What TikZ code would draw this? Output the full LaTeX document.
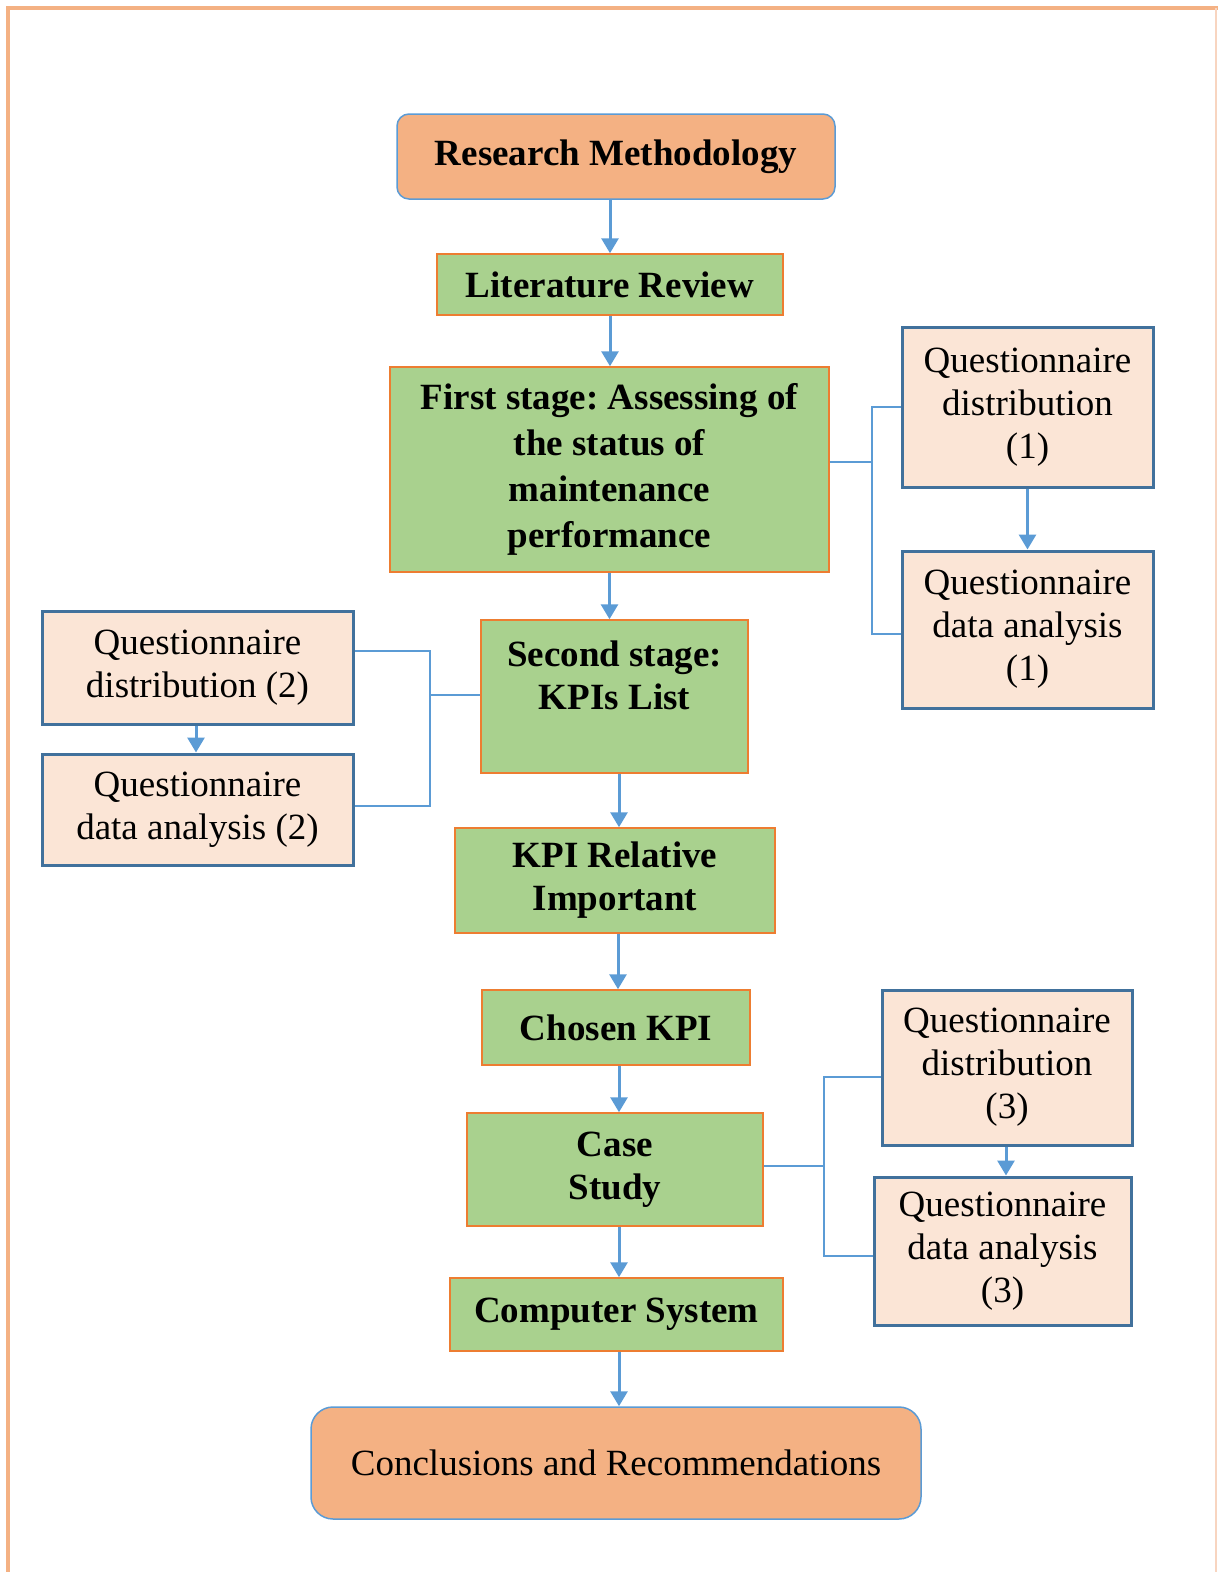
\documentclass[tikz,border=0pt]{standalone}
\usepackage{fontspec}
\setmainfont{Liberation Serif}
\usetikzlibrary{arrows.meta,calc}
\frenchspacing
\definecolor{cgreen}{HTML}{A9D18E}
\definecolor{cgreenline}{HTML}{ED7D31}
\definecolor{corange}{HTML}{F4B183}
\definecolor{cblue}{HTML}{5B9BD5}
\definecolor{cpeach}{HTML}{FBE5D6}
\definecolor{cdarkblue}{HTML}{41719C}
\definecolor{cframe}{HTML}{F4B183}
\definecolor{cframelight}{HTML}{F8D5C0}
\tikzset{
  box/.style={inner sep=0pt, align=center, font=\fontsize{37}{43}\selectfont},
  greenbox/.style={box, fill=cgreen, draw=cgreenline, line width=1.5pt, font=\fontsize{37}{43}\selectfont\bfseries},
  peachbox/.style={box, fill=cpeach, draw=cdarkblue, line width=3pt},
  roundbox/.style={box, fill=corange, draw=cblue, line width=1.5pt, rounded corners=12pt},
  arr/.style={draw=cblue, line width=3pt, -{Triangle[width=17pt,length=15pt]}, fill=cblue},
  brk/.style={draw=cblue, line width=1.8pt},
}
\begin{document}
\begin{tikzpicture}[x=1pt,y=1pt]
\useasboundingbox (0,0) rectangle (1218,-1572);
% outer frame
\draw[cframe, line width=4pt] (8,-1572) -- (8,-8) -- (1218,-8);
\draw[cframelight, line width=1.5pt] (1216,-8) -- (1216,-1572);

% main column
\node[roundbox, minimum width=438pt, minimum height=85pt, font=\fontsize{37}{43}\selectfont\bfseries] (rm) at (616,-156.5) {\raisebox{4pt}{Research Methodology}};
\node[greenbox, minimum width=346pt, minimum height=61pt] (lr) at (610,-284.5) {Literature Review};
\node[greenbox, minimum width=439pt, minimum height=205pt, font=\fontsize{37}{46}\selectfont\bfseries] (fs) at (609.5,-469.5) {First stage: Assessing of\\the status of\\maintenance\\performance};
\node[greenbox, minimum width=267pt, minimum height=153pt] (ss) at (614.5,-696.5) {Second stage:\\KPIs List\\\mbox{}};
\node[greenbox, minimum width=320pt, minimum height=105pt] (kpi) at (615,-880.5) {\raisebox{-6pt}{KPI Relative}\\\raisebox{-6pt}{Important}};
\node[greenbox, minimum width=268pt, minimum height=75pt] (ch) at (616,-1027.5) {Chosen KPI};
\node[greenbox, minimum width=296pt, minimum height=113pt] (cs) at (615,-1169.5) {\raisebox{-4pt}{Case}\\\raisebox{-4pt}{Study}};
\node[greenbox, minimum width=333pt, minimum height=73pt] (co) at (616.5,-1314.5) {Computer System};
\node[roundbox, minimum width=610pt, minimum height=112pt, rounded corners=22pt] (cr) at (616,-1463) {\raisebox{-5pt}{Conclusions and Recommendations}};

% side boxes
\node[peachbox, minimum width=251pt, minimum height=160pt] (qd1) at (1027.5,-407) {Questionnaire\\distribution\\(1)};
\node[peachbox, minimum width=251pt, minimum height=157pt] (qa1) at (1027.5,-629.5) {Questionnaire\\data analysis\\(1)};
\node[peachbox, minimum width=311pt, minimum height=113pt] (qd2) at (197.5,-667.5) {Questionnaire\\distribution (2)};
\node[peachbox, minimum width=311pt, minimum height=111pt] (qa2) at (197.5,-809.5) {Questionnaire\\data analysis (2)};
\node[peachbox, minimum width=250pt, minimum height=155pt] (qd3) at (1007,-1067.5) {Questionnaire\\distribution\\(3)};
\node[peachbox, minimum width=257pt, minimum height=148pt] (qa3) at (1002.5,-1251) {Questionnaire\\data analysis\\(3)};

% main arrows
\draw[arr] (lr.north |- rm.south) -- (lr.north);
\draw[arr] (lr.south) -- (lr.south |- fs.north);
\draw[arr] (fs.south) -- (fs.south |- ss.north);
\draw[arr] ([xshift=4.5pt]ss.south) -- ([xshift=4.5pt]ss.south |- kpi.north);
\draw[arr] ([xshift=3pt]kpi.south) -- ([xshift=3pt]kpi.south |- ch.north);
\draw[arr] ([xshift=3pt]ch.south) -- ([xshift=3pt]ch.south |- cs.north);
\draw[arr] ([xshift=4pt]cs.south) -- ([xshift=4pt]cs.south |- co.north);
\draw[arr] ([xshift=2.5pt]co.south) -- ([xshift=2.5pt]co.south |- cr.north);

% side arrows
\draw[arr] (qd1.south) -- (qa1.north);
\draw[arr] ([xshift=-1.5pt]qd2.south) -- ([xshift=-1.5pt]qd2.south |- qa2.north);
\draw[arr] ([xshift=-1pt]qd3.south) -- ([xshift=-1pt]qd3.south |- qa3.north);

% brackets
\coordinate (j1) at (872,-462);
\draw[brk] ([yshift=7.5pt]fs.east) -- (j1);
\draw[brk] (qd1.west) -- (qd1.west -| j1) -- ([yshift=-4.5pt]j1 |- qa1.west) -- ([yshift=-4.5pt]qa1.west);

\coordinate (j2) at (430,-695);
\draw[brk] ([yshift=1.5pt]ss.west) -- (j2);
\draw[brk] ([yshift=16.5pt]qd2.east) -- ([yshift=16.5pt]qd2.east -| j2) -- ([yshift=3.5pt]j2 |- qa2.east) -- ([yshift=3.5pt]qa2.east);

\coordinate (j3) at (824,-1166);
\draw[brk] ([yshift=3.5pt]cs.east) -- (j3);
\draw[brk] ([yshift=-9.5pt]qd3.west) -- ([yshift=-9.5pt]qd3.west -| j3) -- ([yshift=-5pt]j3 |- qa3.west) -- ([yshift=-5pt]qa3.west);
\end{tikzpicture}
\end{document}
